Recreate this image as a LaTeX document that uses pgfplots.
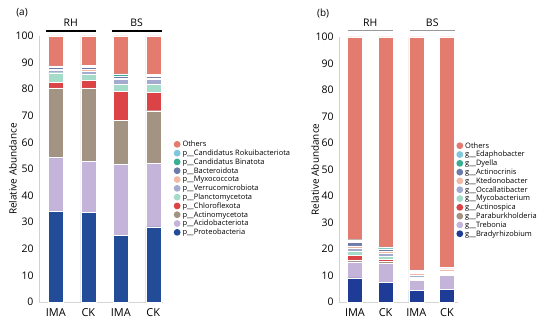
\documentclass[border=0pt]{standalone}
\usepackage{fontspec}
\setmainfont{Open Sans}
\usepackage{pgfplots}
\usepackage{pgfplotstable}
\pgfplotsset{compat=1.18}

\definecolor{cOth}{HTML}{E37B6E}
\definecolor{cRok}{HTML}{7FC7DD}
\definecolor{cBin}{HTML}{3AAE93}
\definecolor{cBac}{HTML}{6D7BAA}
\definecolor{cMyx}{HTML}{F4B9A4}
\definecolor{cVer}{HTML}{A3ABCF}
\definecolor{cPla}{HTML}{A5DCC9}
\definecolor{cChl}{HTML}{DB4347}
\definecolor{cAct}{HTML}{A39382}
\definecolor{cAci}{HTML}{C4B4D9}
\definecolor{cPro}{HTML}{224C98}
\definecolor{cBra}{HTML}{1E3C95}
\definecolor{axblue}{HTML}{C9D1E3}
\definecolor{axgray}{HTML}{D6D6D6}

\pgfplotstableread{
x Pro Aci Act Chl Pla Ver Myx Bac Bin Rok Oth
0 34.2 20.1 26.2 2.1 3.6 0.8 0.5 0.7 0.3 0.3 11.2
1 33.8 19.2 27.5 2.8 2.3 1.0 0.8 0.9 0.4 0.3 11.0
2 25.1 26.7 16.5 11.0 2.4 1.9 0.5 0.6 0.8 0.3 14.2
3 28.2 23.8 19.9 7.0 2.9 1.9 0.6 0.5 0.4 0.3 14.5
}\tabA

\pgfplotstableread{
x Bra Tre Par Acs Myc Occ Kte Acn Dye Eda Oth
0 9.1 6.0 0.8 1.8 1.5 1.2 0.8 1.2 0.5 0.6 76.5
1 7.5 7.0 0.8 0.9 1.0 1.2 0.8 0.6 0.3 0.7 79.2
2 4.3 3.9 0.4 0.3 0.6 0.5 0.8 0.4 0.3 0.6 87.9
3 4.9 5.2 0.3 0.3 0.5 0.4 0.6 0.3 0.2 0.5 86.8
}\tabB

\pgfplotsset{
  dot/.style={legend image code/.code={\fill[##1,draw=none] (3.5bp,0) circle (3.4bp);}},
  mybars/.style={
    scale only axis, ybar stacked, bar width=15bp,
    ymin=0, ymax=100, ytick={0,10,...,100},
    xtick={0,1,2,3}, xticklabels={IMA,CK,IMA,CK},
    axis x line=bottom, axis y line=left,
    x axis line style={-, draw=axgray, line width=0.8pt},
    y axis line style={-, draw=axblue, line width=0.8pt},
    major tick length=0pt,
    /pgf/number format/assume math mode=true,
    yticklabel style={font=\fontsize{10.5}{12}\selectfont, xshift=-2bp},
    xticklabel style={font=\fontsize{11}{13}\selectfont, yshift=-3bp},
    ylabel={Relative Abundance},
    ylabel style={font=\fontsize{10}{12}\selectfont},
    every axis plot/.append style={draw=white, line width=0.4pt},
    clip=false,
    reverse legend, legend cell align=left,
    legend style={anchor=north west, draw=none, fill=none,
      font=\fontsize{7.5}{8}\selectfont, inner sep=0pt, row sep=0pt,
      nodes={inner sep=0.5bp, text height=6.2bp, text depth=1.6bp, anchor=west},
      /tikz/every odd column/.append style={column sep=1.5bp}},
  }
}

\begin{document}
\begin{tikzpicture}
\useasboundingbox (0,0) rectangle (550bp,326bp);

% Panel (a)
\begin{axis}[mybars, at={(39bp,24bp)}, anchor=south west,
  width=124bp, height=266bp, xmin=-0.52, xmax=3.30,
  ylabel style={at={(axis description cs:-0.21,0.5)}, anchor=center},
  legend style={at={(axis description cs:1.085,0.61)}}]
\addplot[fill=cPro, dot] table[x=x,y=Pro]{\tabA};
\addplot[fill=cAci, dot] table[x=x,y=Aci]{\tabA};
\addplot[fill=cAct, dot] table[x=x,y=Act]{\tabA};
\addplot[fill=cChl, dot] table[x=x,y=Chl]{\tabA};
\addplot[fill=cPla, dot] table[x=x,y=Pla]{\tabA};
\addplot[fill=cVer, dot] table[x=x,y=Ver]{\tabA};
\addplot[fill=cMyx, dot] table[x=x,y=Myx]{\tabA};
\addplot[fill=cBac, dot] table[x=x,y=Bac]{\tabA};
\addplot[fill=cBin, dot] table[x=x,y=Bin]{\tabA};
\addplot[fill=cRok, dot] table[x=x,y=Rok]{\tabA};
\addplot[fill=cOth, dot] table[x=x,y=Oth]{\tabA};
\legend{p\_\_Proteobacteria, p\_\_Acidobacteriota, p\_\_Actinomycetota, p\_\_Chloroflexota, p\_\_Planctomycetota, p\_\_Verrucomicrobiota, p\_\_Myxococcota, p\_\_Bacteroidota, p\_\_Candidatus Binatota, p\_\_Candidatus Rokuibacteriota, Others}
\draw[black, line width=1.2pt] (axis cs:-0.31,101.9) -- (axis cs:1.23,101.9);
\draw[black, line width=1.2pt] (axis cs:1.72,101.9) -- (axis cs:3.26,101.9);
\node[font=\fontsize{10.5}{12}\selectfont] at (axis cs:0.46,105.0) {RH};
\node[font=\fontsize{10.5}{12}\selectfont] at (axis cs:2.49,105.0) {BS};
\node[font=\fontsize{10}{12}\selectfont] at (axis description cs:-0.137,1.086) {(a)};
\end{axis}

% Panel (b)
\begin{axis}[mybars, at={(339bp,24bp)}, anchor=south west,
  width=119bp, height=265bp, xmin=-0.52, xmax=3.36,
  ylabel style={at={(axis description cs:-0.20,0.5)}, anchor=center},
  legend style={at={(axis description cs:0.985,0.607)}}]
\addplot[fill=cBra, dot] table[x=x,y=Bra]{\tabB};
\addplot[fill=cAci, dot] table[x=x,y=Tre]{\tabB};
\addplot[fill=cAct, dot] table[x=x,y=Par]{\tabB};
\addplot[fill=cChl, dot] table[x=x,y=Acs]{\tabB};
\addplot[fill=cPla, dot] table[x=x,y=Myc]{\tabB};
\addplot[fill=cVer, dot] table[x=x,y=Occ]{\tabB};
\addplot[fill=cMyx, dot] table[x=x,y=Kte]{\tabB};
\addplot[fill=cBac, dot] table[x=x,y=Acn]{\tabB};
\addplot[fill=cBin, dot] table[x=x,y=Dye]{\tabB};
\addplot[fill=cRok, dot] table[x=x,y=Eda]{\tabB};
\addplot[fill=cOth, dot] table[x=x,y=Oth]{\tabB};
\legend{g\_\_Bradyrhizobium, g\_\_Trebonia, g\_\_Paraburkholderia, g\_\_Actinospica, g\_\_Mycobacterium, g\_\_Occallatibacter, g\_\_Ktedonobacter, g\_\_Actinocrinis, g\_\_Dyella, g\_\_Edaphobacter, Others}
\draw[gray!80, line width=1pt] (axis cs:-0.23,102.3) -- (axis cs:1.24,102.3);
\draw[gray!80, line width=1pt] (axis cs:1.79,102.3) -- (axis cs:3.26,102.3);
\node[font=\fontsize{10.5}{12}\selectfont] at (axis cs:0.50,105.3) {RH};
\node[font=\fontsize{10.5}{12}\selectfont] at (axis cs:2.52,105.3) {BS};
\node[font=\fontsize{10}{12}\selectfont] at (axis description cs:-0.134,1.09) {(b)};
\end{axis}
\end{tikzpicture}
\end{document}
